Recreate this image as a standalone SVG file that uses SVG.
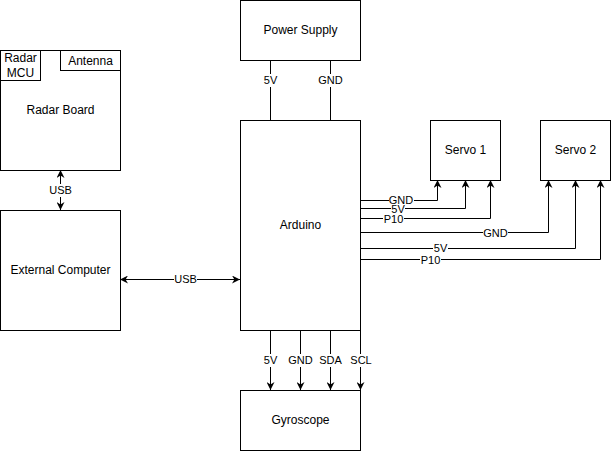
<svg xmlns="http://www.w3.org/2000/svg" width="611" height="451" viewBox="0 0 611 451">
<defs>
<style>
.box{fill:#fff;stroke:#000;stroke-width:1}
.t{font-family:"Liberation Sans",Arial,Helvetica,sans-serif;font-size:12px;fill:#000;text-anchor:middle;dominant-baseline:central}
.l{font-family:"Liberation Sans",Arial,Helvetica,sans-serif;font-size:11px;fill:#000;text-anchor:middle;dominant-baseline:central}
.e{fill:none;stroke:#000;stroke-width:1}
.bg{fill:#fff}
</style>
<marker id="ah" viewBox="0 0 10 10" refX="10" refY="5" markerWidth="8" markerHeight="8" markerUnits="userSpaceOnUse" orient="auto-start-reverse">
<path d="M0,0 L10,5 L0,10 L3,5 Z" fill="#000"/>
</marker>
</defs>
<rect width="611" height="451" fill="#fff"/>

<g id="connectors">
<!-- Power -->
<path class="e" d="M270.5,60 V120"/>
<path class="e" d="M330.5,60 V120"/>
<!-- Gyro -->
<path class="e" d="M270.5,330 V390" marker-end="url(#ah)"/>
<path class="e" d="M300.5,330 V390" marker-end="url(#ah)"/>
<path class="e" d="M330.5,330 V390" marker-end="url(#ah)"/>
<path class="e" d="M360.5,330 V390" marker-end="url(#ah)"/>
<!-- Servo 1 -->
<path class="e" d="M360,200.5 H437.5 V180" marker-end="url(#ah)"/>
<path class="e" d="M360,208.5 H465.5 V180" marker-end="url(#ah)"/>
<path class="e" d="M360,218.5 H490.5 V180" marker-end="url(#ah)"/>
<!-- Servo 2 -->
<path class="e" d="M360,232.5 H548.5 V180" marker-end="url(#ah)"/>
<path class="e" d="M360,248.5 H575.5 V180" marker-end="url(#ah)"/>
<path class="e" d="M360,259.5 H600.5 V180" marker-end="url(#ah)"/>
<!-- USB -->
<path class="e" d="M60.5,170 V210" marker-start="url(#ah)" marker-end="url(#ah)"/>
<path class="e" d="M120,279.5 H240" marker-start="url(#ah)" marker-end="url(#ah)"/>
<!-- MCU to antenna -->
<path class="e" d="M40.5,80 V85.5 H90.5 V70" marker-end="url(#ah)"/>

<!-- labels -->
<rect class="bg" x="262" y="74" width="17" height="13"/><text class="l" x="270.5" y="80">5V</text>
<rect class="bg" x="318" y="74" width="25" height="13"/><text class="l" x="330.5" y="80">GND</text>
<rect class="bg" x="262" y="354" width="17" height="13"/><text class="l" x="270.5" y="360">5V</text>
<rect class="bg" x="288" y="354" width="25" height="13"/><text class="l" x="300.5" y="360">GND</text>
<rect class="bg" x="318" y="354" width="25" height="13"/><text class="l" x="330.5" y="360">SDA</text>
<rect class="bg" x="350" y="354" width="22" height="13"/><text class="l" x="361" y="360">SCL</text>
<rect class="bg" x="49" y="184" width="23" height="13"/><text class="l" x="60.5" y="190">USB</text>
<rect class="bg" x="174" y="273" width="23" height="13"/><text class="l" x="185.5" y="279">USB</text>

<rect class="bg" x="389" y="195" width="25" height="10"/><text class="l" x="401" y="200">GND</text>
<rect class="bg" x="391" y="205" width="14" height="7"/><text class="l" x="398" y="208.5">5V</text>
<rect class="bg" x="383" y="213" width="21" height="11"/><text class="l" x="393.5" y="218.5">P10</text>
<rect class="bg" x="483" y="226" width="25" height="13"/><text class="l" x="495.5" y="232.5">GND</text>
<rect class="bg" x="433" y="242" width="15" height="13"/><text class="l" x="440.5" y="248">5V</text>
<rect class="bg" x="420" y="253" width="21" height="13"/><text class="l" x="430.5" y="259.5">P10</text>
</g>

<g id="power-supply"><rect class="box" x="240.5" y="0.5" width="120" height="60"/><text class="t" x="300.5" y="30">Power Supply</text></g>
<g id="arduino"><rect class="box" x="240.5" y="120.5" width="120" height="210"/><text class="t" x="300.5" y="225">Arduino</text></g>
<g id="gyroscope"><rect class="box" x="240.5" y="390.5" width="120" height="60"/><text class="t" x="300.5" y="420">Gyroscope</text></g>
<g id="servo-1"><rect class="box" x="430.5" y="120.5" width="70" height="60"/><text class="t" x="465.5" y="150">Servo 1</text></g>
<g id="servo-2"><rect class="box" x="540.5" y="120.5" width="70" height="60"/><text class="t" x="575.5" y="150">Servo 2</text></g>
<g id="radar-board"><rect class="box" x="0.5" y="50.5" width="120" height="120"/><text class="t" x="60.5" y="110">Radar Board</text></g>
<g id="radar-mcu"><rect class="box" x="0.5" y="50.5" width="40" height="30"/><text class="t" x="20.5" y="58">Radar</text><text class="t" x="20.5" y="73">MCU</text></g>
<g id="antenna"><rect class="box" x="60.5" y="50.5" width="60" height="20"/><text class="t" x="90.5" y="60.5">Antenna</text></g>
<g id="external-computer"><rect class="box" x="0.5" y="210.5" width="120" height="120"/><text class="t" x="60.5" y="270">External Computer</text></g>
</svg>
